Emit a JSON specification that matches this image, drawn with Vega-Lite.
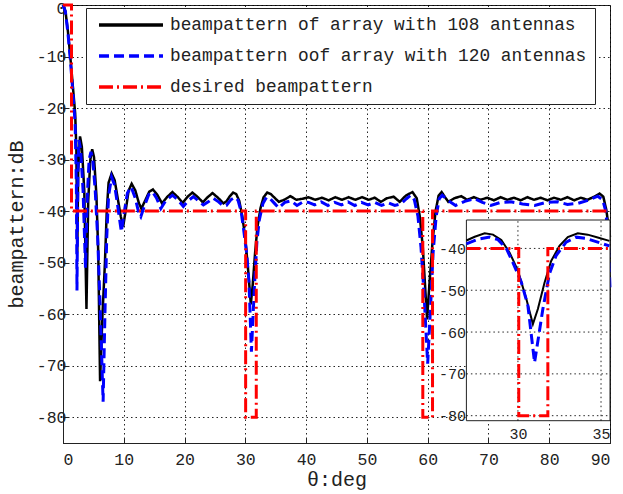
{
  "$schema": "https://vega.github.io/schema/vega-lite/v6.json",
  "width": 547,
  "height": 438,
  "autosize": {"type": "none"},
  "padding": {"left": 63, "top": 5, "right": 13, "bottom": 51},
  "background": "white",
  "config": {
    "view": {"stroke": "#222", "strokeWidth": 1},
    "font": "Liberation Mono",
    "axis": {
      "labelFont": "Liberation Mono",
      "titleFont": "Liberation Mono",
      "labelColor": "#222",
      "titleColor": "#222",
      "domainColor": "#222",
      "tickColor": "#222",
      "gridColor": "#000",
      "gridDash": [1.5, 3],
      "gridOpacity": 0.85,
      "titleFontWeight": "normal"
    }
  },
  "datasets": {
    "black": [
      {"theta": 0, "dB": 0}, {"theta": 0.4, "dB": -1.2}, {"theta": 0.8, "dB": -5}, {"theta": 1.2, "dB": -10},
      {"theta": 1.6, "dB": -15.5}, {"theta": 2.0, "dB": -21}, {"theta": 2.2, "dB": -28}, {"theta": 2.35, "dB": -48},
      {"theta": 2.5, "dB": -32}, {"theta": 2.8, "dB": -25.5}, {"theta": 3.1, "dB": -27.5}, {"theta": 3.5, "dB": -36},
      {"theta": 3.86, "dB": -59}, {"theta": 4.15, "dB": -38}, {"theta": 4.5, "dB": -30}, {"theta": 4.8, "dB": -28},
      {"theta": 5.1, "dB": -29.5}, {"theta": 5.5, "dB": -37}, {"theta": 5.8, "dB": -48}, {"theta": 6.1, "dB": -73},
      {"theta": 6.5, "dB": -60}, {"theta": 6.9, "dB": -50}, {"theta": 7.2, "dB": -40}, {"theta": 7.5, "dB": -34.5},
      {"theta": 8.0, "dB": -32.7}, {"theta": 8.5, "dB": -34}, {"theta": 9.0, "dB": -37.5}, {"theta": 9.5, "dB": -41},
      {"theta": 9.9, "dB": -43}, {"theta": 10.3, "dB": -40}, {"theta": 10.8, "dB": -36}, {"theta": 11.3, "dB": -34.7},
      {"theta": 11.9, "dB": -36}, {"theta": 12.5, "dB": -38.5}, {"theta": 12.9, "dB": -39.5}, {"theta": 13.5, "dB": -38},
      {"theta": 14.2, "dB": -36.2}, {"theta": 14.8, "dB": -35.8}, {"theta": 15.5, "dB": -36.8}, {"theta": 16.3, "dB": -38.5},
      {"theta": 17.1, "dB": -37.3}, {"theta": 18.0, "dB": -36.3}, {"theta": 18.9, "dB": -37.3}, {"theta": 19.7, "dB": -38.4},
      {"theta": 20.5, "dB": -37.2}, {"theta": 21.3, "dB": -36.4}, {"theta": 22.2, "dB": -37.3}, {"theta": 23.0, "dB": -38.3},
      {"theta": 23.8, "dB": -37.3}, {"theta": 24.6, "dB": -36.5}, {"theta": 25.5, "dB": -37.4}, {"theta": 26.4, "dB": -38.5},
      {"theta": 26.9, "dB": -38.1}, {"theta": 27.4, "dB": -37.2}, {"theta": 28.0, "dB": -36.4}, {"theta": 28.5, "dB": -36.7},
      {"theta": 29.0, "dB": -38.0}, {"theta": 29.5, "dB": -41}, {"theta": 30.0, "dB": -45.3}, {"theta": 30.5, "dB": -52},
      {"theta": 30.9, "dB": -58.1}, {"theta": 31.2, "dB": -54.5}, {"theta": 31.6, "dB": -48.2}, {"theta": 32.0, "dB": -43},
      {"theta": 32.5, "dB": -39.4}, {"theta": 33.0, "dB": -37.3}, {"theta": 33.6, "dB": -36.4}, {"theta": 34.2, "dB": -36.7},
      {"theta": 34.8, "dB": -37.4}, {"theta": 35.5, "dB": -38.2}, {"theta": 36.4, "dB": -37.8}, {"theta": 37.4, "dB": -37.1},
      {"theta": 38.4, "dB": -37.8}, {"theta": 39.4, "dB": -37.6}, {"theta": 40.4, "dB": -37.3}, {"theta": 41.5, "dB": -37.8},
      {"theta": 42.6, "dB": -37.4}, {"theta": 43.7, "dB": -37.9}, {"theta": 44.8, "dB": -37.3}, {"theta": 45.9, "dB": -37.8},
      {"theta": 47.0, "dB": -37.3}, {"theta": 48.1, "dB": -37.8}, {"theta": 49.2, "dB": -37.3}, {"theta": 50.3, "dB": -37.8},
      {"theta": 51.3, "dB": -37.4}, {"theta": 52.3, "dB": -38.2}, {"theta": 53.3, "dB": -37.5}, {"theta": 54.4, "dB": -37.2},
      {"theta": 55.4, "dB": -38.2}, {"theta": 56.4, "dB": -37.0}, {"theta": 57.5, "dB": -36.3}, {"theta": 58.2, "dB": -37.5},
      {"theta": 58.7, "dB": -41}, {"theta": 59.2, "dB": -47}, {"theta": 59.6, "dB": -55}, {"theta": 59.9, "dB": -61},
      {"theta": 60.3, "dB": -54}, {"theta": 60.8, "dB": -46}, {"theta": 61.3, "dB": -40}, {"theta": 61.8, "dB": -37},
      {"theta": 62.3, "dB": -36.3}, {"theta": 62.8, "dB": -37.2}, {"theta": 63.4, "dB": -38.2}, {"theta": 64.4, "dB": -37.5},
      {"theta": 65.5, "dB": -37.1}, {"theta": 66.5, "dB": -37.8}, {"theta": 67.6, "dB": -37.3}, {"theta": 68.7, "dB": -37.8},
      {"theta": 69.8, "dB": -37.4}, {"theta": 70.9, "dB": -37.9}, {"theta": 72.0, "dB": -37.3}, {"theta": 73.1, "dB": -37.8},
      {"theta": 74.2, "dB": -37.4}, {"theta": 75.3, "dB": -37.9}, {"theta": 76.4, "dB": -37.3}, {"theta": 77.5, "dB": -37.8},
      {"theta": 78.6, "dB": -37.4}, {"theta": 79.7, "dB": -37.9}, {"theta": 80.8, "dB": -37.4}, {"theta": 81.9, "dB": -37.8},
      {"theta": 83.0, "dB": -37.3}, {"theta": 84.1, "dB": -37.9}, {"theta": 85.2, "dB": -37.4}, {"theta": 86.3, "dB": -37.8},
      {"theta": 87.4, "dB": -37.2}, {"theta": 88.3, "dB": -36.6}, {"theta": 88.9, "dB": -37.2}, {"theta": 89.4, "dB": -39.8},
      {"theta": 90, "dB": -45}
    ],
    "blue": [
      {"theta": 0, "dB": 0}, {"theta": 0.4, "dB": -1.3}, {"theta": 0.8, "dB": -5.3}, {"theta": 1.2, "dB": -10.5},
      {"theta": 1.6, "dB": -16.5}, {"theta": 2.0, "dB": -23}, {"theta": 2.2, "dB": -35}, {"theta": 2.3, "dB": -55.4},
      {"theta": 2.45, "dB": -33}, {"theta": 2.6, "dB": -26.2}, {"theta": 2.9, "dB": -28}, {"theta": 3.3, "dB": -36},
      {"theta": 3.7, "dB": -51}, {"theta": 4.0, "dB": -37}, {"theta": 4.3, "dB": -30}, {"theta": 4.6, "dB": -28.5},
      {"theta": 4.9, "dB": -30}, {"theta": 5.3, "dB": -36}, {"theta": 5.7, "dB": -45}, {"theta": 6.1, "dB": -58},
      {"theta": 6.6, "dB": -77}, {"theta": 6.9, "dB": -60}, {"theta": 7.2, "dB": -45}, {"theta": 7.5, "dB": -37},
      {"theta": 8.0, "dB": -33.4}, {"theta": 8.5, "dB": -35}, {"theta": 9.0, "dB": -39}, {"theta": 9.6, "dB": -44},
      {"theta": 10.1, "dB": -40}, {"theta": 10.6, "dB": -36.5}, {"theta": 11.2, "dB": -35.3}, {"theta": 11.9, "dB": -37.5},
      {"theta": 12.5, "dB": -40.5}, {"theta": 12.8, "dB": -41.1}, {"theta": 13.4, "dB": -39}, {"theta": 14.1, "dB": -36.8},
      {"theta": 14.75, "dB": -36.3}, {"theta": 15.4, "dB": -37.5}, {"theta": 16.1, "dB": -39.5}, {"theta": 16.9, "dB": -38},
      {"theta": 18.0, "dB": -36.9}, {"theta": 18.9, "dB": -37.8}, {"theta": 19.8, "dB": -39.1}, {"theta": 20.6, "dB": -38},
      {"theta": 21.45, "dB": -37.2}, {"theta": 22.3, "dB": -38}, {"theta": 23.1, "dB": -38.8}, {"theta": 23.9, "dB": -38.2},
      {"theta": 24.7, "dB": -37.5}, {"theta": 25.6, "dB": -38.2}, {"theta": 26.4, "dB": -39}, {"theta": 26.9, "dB": -38.9},
      {"theta": 27.6, "dB": -37.8}, {"theta": 28.3, "dB": -37.3}, {"theta": 28.8, "dB": -37.9}, {"theta": 29.3, "dB": -40},
      {"theta": 29.7, "dB": -43.4}, {"theta": 30.2, "dB": -48}, {"theta": 30.6, "dB": -53.7}, {"theta": 31.0, "dB": -67.3},
      {"theta": 31.5, "dB": -54.5}, {"theta": 31.9, "dB": -46}, {"theta": 32.3, "dB": -41.7}, {"theta": 32.9, "dB": -38.5},
      {"theta": 33.5, "dB": -37.3}, {"theta": 34.1, "dB": -37.6}, {"theta": 34.8, "dB": -38.5}, {"theta": 35.5, "dB": -39.4},
      {"theta": 36.5, "dB": -38.3}, {"theta": 37.5, "dB": -38.0}, {"theta": 38.5, "dB": -38.9}, {"theta": 39.5, "dB": -38.2},
      {"theta": 40.4, "dB": -38.3}, {"theta": 41.4, "dB": -38.8}, {"theta": 42.5, "dB": -38.2}, {"theta": 43.6, "dB": -38.9},
      {"theta": 44.7, "dB": -38.3}, {"theta": 45.8, "dB": -38.8}, {"theta": 46.9, "dB": -38.2}, {"theta": 48.0, "dB": -38.9},
      {"theta": 49.1, "dB": -38.3}, {"theta": 50.2, "dB": -38.8}, {"theta": 51.3, "dB": -38.3}, {"theta": 52.4, "dB": -38.9},
      {"theta": 53.5, "dB": -38.4}, {"theta": 54.6, "dB": -38.9}, {"theta": 55.6, "dB": -38.6}, {"theta": 56.5, "dB": -37.6},
      {"theta": 57.2, "dB": -36.9}, {"theta": 57.8, "dB": -37.8}, {"theta": 58.4, "dB": -41}, {"theta": 58.9, "dB": -47},
      {"theta": 59.4, "dB": -56}, {"theta": 60.0, "dB": -69.6}, {"theta": 60.5, "dB": -58}, {"theta": 60.9, "dB": -48},
      {"theta": 61.4, "dB": -41}, {"theta": 61.9, "dB": -37.6}, {"theta": 62.4, "dB": -36.9}, {"theta": 63.2, "dB": -37.8},
      {"theta": 64.6, "dB": -38.9}, {"theta": 66.1, "dB": -38.1}, {"theta": 67.7, "dB": -37.6}, {"theta": 69.0, "dB": -38.3},
      {"theta": 70.4, "dB": -38.9}, {"theta": 72.0, "dB": -38.3}, {"theta": 73.7, "dB": -38.2}, {"theta": 75.6, "dB": -38.6},
      {"theta": 77.6, "dB": -38.9}, {"theta": 79.5, "dB": -38.3}, {"theta": 81.4, "dB": -38.2}, {"theta": 83.0, "dB": -38.7},
      {"theta": 84.7, "dB": -38.5}, {"theta": 86.4, "dB": -37.9}, {"theta": 88.0, "dB": -37.1}, {"theta": 88.8, "dB": -37.8},
      {"theta": 89.3, "dB": -40}, {"theta": 89.7, "dB": -45}, {"theta": 90, "dB": -55}
    ],
    "red": [
      {"theta": 0, "dB": 0}, {"theta": 1.4, "dB": 0}, {"theta": 1.4, "dB": -40}, {"theta": 26.9, "dB": -40},
      {"theta": 30.05, "dB": -40}, {"theta": 30.05, "dB": -80}, {"theta": 31.8, "dB": -80}, {"theta": 31.8, "dB": -40},
      {"theta": 35.5, "dB": -40}, {"theta": 59.2, "dB": -40}, {"theta": 59.2, "dB": -80}, {"theta": 60.8, "dB": -80},
      {"theta": 60.8, "dB": -40}, {"theta": 90, "dB": -40}
    ]
  },
  "layer": [
    {
      "encoding": {
        "x": {
          "field": "theta", "type": "quantitative",
          "scale": {"domain": [0, 90], "nice": false, "zero": false},
          "axis": {
            "values": [0, 10, 20, 30, 40, 50, 60, 70, 80, 90],
            "title": "θ:deg", "titleFontSize": 20, "titleX": 273.5, "titleY": 36,
            "titleBaseline": "middle", "titleAlign": "center",
            "labelFontSize": 16.5, "labelPadding": 13, "tickSize": -5, "grid": true
          }
        },
        "y": {
          "field": "dB", "type": "quantitative",
          "scale": {"domain": [-85, 0], "nice": false, "zero": false},
          "axis": {
            "values": [-80, -70, -60, -50, -40, -30, -20, -10, 0],
            "labelExpr": "datum.value < 0 ? '-' + abs(datum.value) : '' + datum.value",
            "title": "beampattern:dB", "titleFontSize": 20, "titleX": -47, "titleY": 219,
            "titleAngle": -90, "titleBaseline": "middle", "titleAlign": "center",
            "labelFontSize": 16.5, "labelPadding": 2, "tickSize": -5, "grid": true,
            "labelFlush": true, "labelFlushOffset": 5
          }
        },
        "order": {"value": null}
      },
      "layer": [
        {
          "data": {"name": "black"},
          "mark": {"type": "line", "strokeWidth": 2.5},
          "encoding": {
            "color": {
              "datum": "beampattern of array with 108 antennas", "type": "nominal",
              "scale": {
                "domain": ["beampattern of array with 108 antennas", "beampattern oof array with 120 antennas", "desired beampattern"],
                "range": ["#000000", "#0000ff", "#ff0000"]
              },
              "legend": {
                "orient": "none", "legendX": 23, "legendY": 3, "title": null, "direction": "vertical",
                "fillColor": "white", "strokeColor": "#222", "padding": 8,
                "symbolType": "M-4.57,0H4.57", "symbolSize": 196, "symbolStrokeWidth": 3.5,
                "symbolOffset": 28, "labelOffset": 30, "labelFont": "Liberation Mono",
                "labelFontSize": 17.8, "labelColor": "#222", "rowPadding": 13, "labelLimit": 1000,
                "symbolFillColor": "transparent"
              }
            },
            "strokeDash": {
              "datum": "beampattern of array with 108 antennas", "type": "nominal",
              "scale": {
                "domain": ["beampattern of array with 108 antennas", "beampattern oof array with 120 antennas", "desired beampattern"],
                "range": [[1, 0], [10, 5], [14, 4, 2, 4]]
              }
            }
          }
        },
        {
          "data": {"name": "blue"},
          "mark": {"type": "line", "strokeWidth": 3},
          "encoding": {
            "color": {"datum": "beampattern oof array with 120 antennas", "type": "nominal"},
            "strokeDash": {"datum": "beampattern oof array with 120 antennas", "type": "nominal"}
          }
        },
        {
          "data": {"name": "red"},
          "mark": {"type": "line", "strokeWidth": 3},
          "encoding": {
            "color": {"datum": "desired beampattern", "type": "nominal"},
            "strokeDash": {"datum": "desired beampattern", "type": "nominal"}
          }
        }
      ]
    },
    {
      "layer": [
        {
          "data": {"values": [{}]},
          "mark": {"type": "rect", "fill": "white", "stroke": "#222", "strokeWidth": 1},
          "encoding": {
            "x": {
              "datum": 26.9, "type": "quantitative",
              "scale": {"domain": [26.9, 35.54], "range": [403.4, 547], "nice": false, "zero": false},
              "axis": {
                "orient": "bottom", "offset": -22.3, "values": [30, 35], "title": null, "format": "d",
                "labelFontSize": 15, "labelPadding": 6, "ticks": false, "domain": false, "grid": false
              }
            },
            "x2": {"datum": 35.54},
            "y": {
              "datum": -81.2, "type": "quantitative",
              "scale": {"domain": [-81.2, -33.2], "range": [415.7, 215], "nice": false, "zero": false},
              "axis": {
                "orient": "left", "offset": -403.4, "values": [-80, -70, -60, -50, -40], "title": null,
                "labelExpr": "datum.value < 0 ? '-' + abs(datum.value) : '' + datum.value",
                "labelFontSize": 15, "labelPadding": 1, "ticks": false, "domain": false, "grid": false
              }
            },
            "y2": {"datum": -33.2}
          }
        },
        {
          "data": {"values": [{"t": 30}, {"t": 35}]},
          "mark": {"type": "rule", "color": "#000", "strokeDash": [1.5, 3], "strokeWidth": 1, "opacity": 0.85},
          "encoding": {
            "x": {"field": "t", "type": "quantitative"},
            "y": {"datum": -81.2, "type": "quantitative"},
            "y2": {"datum": -33.2}
          }
        },
        {
          "data": {"values": [{"d": -40}, {"d": -50}, {"d": -60}, {"d": -70}, {"d": -80}]},
          "mark": {"type": "rule", "color": "#000", "strokeDash": [1.5, 3], "strokeWidth": 1, "opacity": 0.85},
          "encoding": {
            "y": {"field": "d", "type": "quantitative"},
            "x": {"datum": 26.9, "type": "quantitative"},
            "x2": {"datum": 35.54}
          }
        },
        {
          "data": {"name": "black"},
          "transform": [{"filter": "datum.theta >= 26.9 && datum.theta <= 35.5"}],
          "mark": {"type": "line", "color": "#000000", "strokeWidth": 2},
          "encoding": {
            "x": {"field": "theta", "type": "quantitative"},
            "y": {"field": "dB", "type": "quantitative"},
            "order": {"value": null}
          }
        },
        {
          "data": {"name": "blue"},
          "transform": [{"filter": "datum.theta >= 26.9 && datum.theta <= 35.5"}],
          "mark": {"type": "line", "color": "#0000ff", "strokeWidth": 3, "strokeDash": [10, 5]},
          "encoding": {
            "x": {"field": "theta", "type": "quantitative"},
            "y": {"field": "dB", "type": "quantitative"},
            "order": {"value": null}
          }
        },
        {
          "data": {"name": "red"},
          "transform": [{"filter": "datum.theta >= 26.9 && datum.theta <= 35.5"}],
          "mark": {"type": "line", "color": "#ff0000", "strokeWidth": 3, "strokeDash": [14, 4, 2, 4]},
          "encoding": {
            "x": {"field": "theta", "type": "quantitative"},
            "y": {"field": "dB", "type": "quantitative"},
            "order": {"value": null}
          }
        }
      ]
    }
  ],
  "resolve": {"scale": {"x": "independent", "y": "independent"}}
}
